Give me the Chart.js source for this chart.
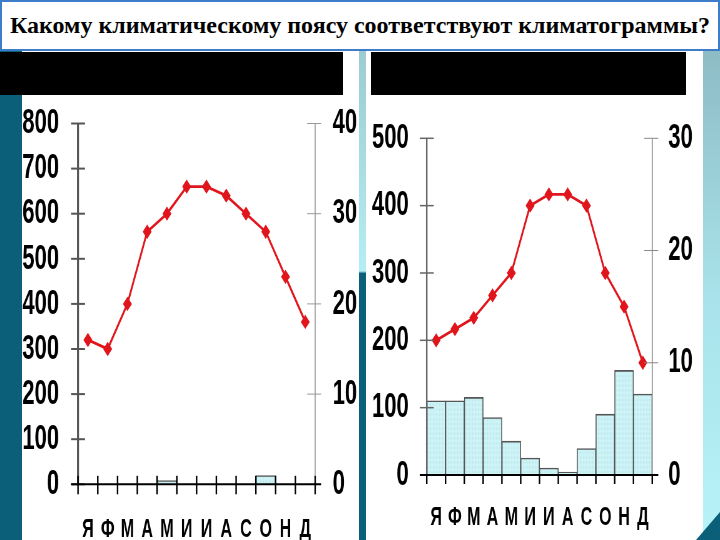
<!DOCTYPE html>
<html>
<head>
<meta charset="utf-8">
<script src="https://cdn.jsdelivr.net/npm/chart.js@4"></script>
<style>
  html, body { margin: 0; padding: 0; }
  body { width: 720px; height: 540px; overflow: hidden; position: relative; background: #fff; }
  .abs { position: absolute; }
  #title {
    left: 0; top: 0; width: 720px; height: 51px; box-sizing: border-box;
    border: 2px solid #3d7cc9; background: #fff;
    font-family: 'Liberation Serif', 'Times New Roman', serif; font-weight: bold;
    font-size: 24px; line-height: 47px; text-align: center; white-space: nowrap;
  }
  #stripL { left: 0; top: 51px; width: 22px; height: 489px; background: #0b5f78; }
  #stripM { left: 359px; top: 51px; width: 7px; height: 489px;
    background: linear-gradient(#9ccbd3 0%, #b4eef4 45%, #0b5f78 45.5%, #0b5f78 100%); }
  #stripR { left: 703px; top: 51px; width: 17px; height: 489px;
    background: linear-gradient(#8dbcc5 0%, #a9e2ea 50%, #b7f3f8 100%); }
  #cornerR { left: 696px; top: 512px; width: 24px; height: 28px; background: #0b5f78;
    clip-path: polygon(0 100%, 100% 0, 100% 100%); }
  .black { top: 52px; height: 43px; background: #000; }
  /* the charts are drawn 278px tall and shown stretched to 445px, like the slide picture */
  canvas { position: absolute; top: 95px; height: 445px; }
</style>
</head>
<body>
<div id="title" class="abs">Какому климатическому поясу соответствуют климатограммы?</div>
<div id="stripL" class="abs"></div>
<div id="stripM" class="abs"></div>
<div id="stripR" class="abs"></div>
<div id="cornerR" class="abs"></div>
<div class="abs black" style="left:0;width:343px"></div>
<div class="abs black" style="left:371px;width:315px"></div>
<canvas id="chartLeft" width="340" height="278" style="left:22px;width:340px;height:445px"></canvas>
<canvas id="chartRight" width="337" height="278" style="left:366px;width:337px;height:445px"></canvas>
<script>
const months = ["Я", "Ф", "М", "А", "М", "И", "И", "А", "С", "О", "Н", "Д"];

// left climatogram
const leftPrecip = [0, 0, 0, 0, 8, 0, 0, 0, 0, 19, 0, 0];
const leftTemp = [16, 15, 20, 28, 30, 33, 33, 32, 30, 28, 23, 18];
const leftPrecipMax = 800;
const leftTempMax = 40;

// right climatogram
const rightPrecip = [110, 110, 115, 85, 50, 25, 10, 4, 39, 90, 155, 120];
const rightTemp = [12, 13, 14, 16, 18, 24, 25, 25, 24, 18, 15, 10];
const rightPrecipMax = 500;
const rightTempMax = 30;

const stretch = 445 / 278;
const fontFamily = "'Liberation Sans', Arial, sans-serif";
const tickFont = { family: fontFamily, weight: "bold", size: 22 };
const monthFont = { family: fontFamily, weight: "bold", size: 16 };
const noGrid = { display: false, drawTicks: false };

function dotPattern() {
  const c = document.createElement("canvas");
  c.width = 3; c.height = 3;
  const g = c.getContext("2d");
  g.fillStyle = "#cdf3f6";
  g.fillRect(0, 0, 3, 3);
  g.fillStyle = "#b3e3e8";
  g.fillRect(1, 1, 1, 1);
  return g.createPattern(c, "repeat");
}

// fixed axis width; the label half-heights should not push the plot down
function fixWidth(w) {
  return s => {
    s.width = w;
    s.paddingTop = 0;
    s.paddingBottom = 0;
  };
}

// axis lines with ticks crossing them, plus the month baseline
const axisLines = {
  id: "axisLines",
  afterDatasetsDraw(chart, args, o) {
    const { ctx, chartArea: a, scales } = chart;
    const x = scales.x, yP = scales.yP, yT = scales.yT;
    const seg = (x1, y1, x2, y2) => { ctx.beginPath(); ctx.moveTo(x1, y1); ctx.lineTo(x2, y2); ctx.stroke(); };
    ctx.save();
    ctx.strokeStyle = o.leftColor;
    ctx.lineWidth = o.leftWidth;
    seg(a.left, yP.getPixelForValue(yP.max), a.left, a.bottom);
    ctx.lineWidth = o.leftWidth / stretch;
    yP.ticks.forEach(t => {
      const p = yP.getPixelForValue(t.value);
      seg(a.left - 7, p, a.left + 7, p);
    });
    ctx.strokeStyle = o.rightColor;
    ctx.lineWidth = 1;
    seg(a.right, yT.getPixelForValue(yT.max), a.right, a.bottom);
    ctx.lineWidth = 1 / stretch;
    yT.ticks.forEach(t => {
      const p = yT.getPixelForValue(t.value);
      seg(a.right - 8, p, a.right + 6, p);
    });
    ctx.strokeStyle = "#000";
    ctx.lineWidth = 2 / stretch;
    seg(a.left - 7, a.bottom, a.right + 6, a.bottom);
    const half = (x.getPixelForValue(1) - x.getPixelForValue(0)) / 2;
    ctx.lineWidth = 1.5;
    for (let i = 0; i <= months.length; i++) {
      const p = x.getPixelForValue(i) - half;
      seg(p, a.bottom - o.up / stretch, p, a.bottom + o.down / stretch);
    }
    ctx.restore();
  }
};

function makeChart(id, precip, temp, pMax, tMax, box) {
  return new Chart(document.getElementById(id), {
    data: {
      labels: months,
      datasets: [
        {
          type: "line",
          data: temp,
          yAxisID: "yT",
          order: 0,
          borderColor: "#e0161c",
          backgroundColor: "#e0161c",
          borderWidth: 1.8,
          pointStyle: "rectRot",
          pointRadius: 3.2,
          tension: 0
        },
        {
          type: "bar",
          data: precip,
          yAxisID: "yP",
          order: 1,
          backgroundColor: dotPattern(),
          borderColor: "#555",
          borderWidth: 1,
          categoryPercentage: 1,
          barPercentage: 1
        }
      ]
    },
    options: {
      responsive: false,
      animation: false,
      devicePixelRatio: stretch,
      layout: { padding: { top: box.top / stretch, left: 0, right: 0, bottom: 0 } },
      plugins: {
        legend: { display: false },
        tooltip: { enabled: false },
        axisLines: box.axes
      },
      scales: {
        x: {
          offset: true,
          grid: noGrid,
          border: { display: false },
          ticks: { color: "#000", font: monthFont, padding: box.monthPad, maxRotation: 0, autoSkip: false },
          afterFit: s => { s.height = 278 - box.bottom / stretch; }
        },
        yP: {
          position: "left",
          min: 0,
          max: pMax,
          grid: noGrid,
          border: { display: false },
          ticks: { stepSize: 100, autoSkip: false, color: "#000", font: tickFont, padding: box.leftPad },
          afterFit: fixWidth(box.leftWidth)
        },
        yT: {
          position: "right",
          min: 0,
          max: tMax,
          grid: noGrid,
          border: { display: false },
          ticks: { stepSize: 10, autoSkip: false, color: "#000", font: tickFont, padding: box.rightPad },
          afterFit: fixWidth(box.rightWidth)
        }
      }
    },
    plugins: [axisLines]
  });
}

makeChart("chartLeft", leftPrecip, leftTemp, leftPrecipMax, leftTempMax, {
  top: 28.5, bottom: 389.3, leftWidth: 56, rightWidth: 47, leftPad: 19, rightPad: 17.5, monthPad: 19,
  axes: { leftColor: "#555", leftWidth: 2, rightColor: "#999", up: 8.5, down: 10 }
});
makeChart("chartRight", rightPrecip, rightTemp, rightPrecipMax, rightTempMax, {
  top: 43.3, bottom: 380, leftWidth: 60.7, rightWidth: 51, leftPad: 18, rightPad: 16, monthPad: 17.5,
  axes: { leftColor: "#666", leftWidth: 1.5, rightColor: "#888", up: 0, down: 9 }
});
</script>
</body>
</html>
